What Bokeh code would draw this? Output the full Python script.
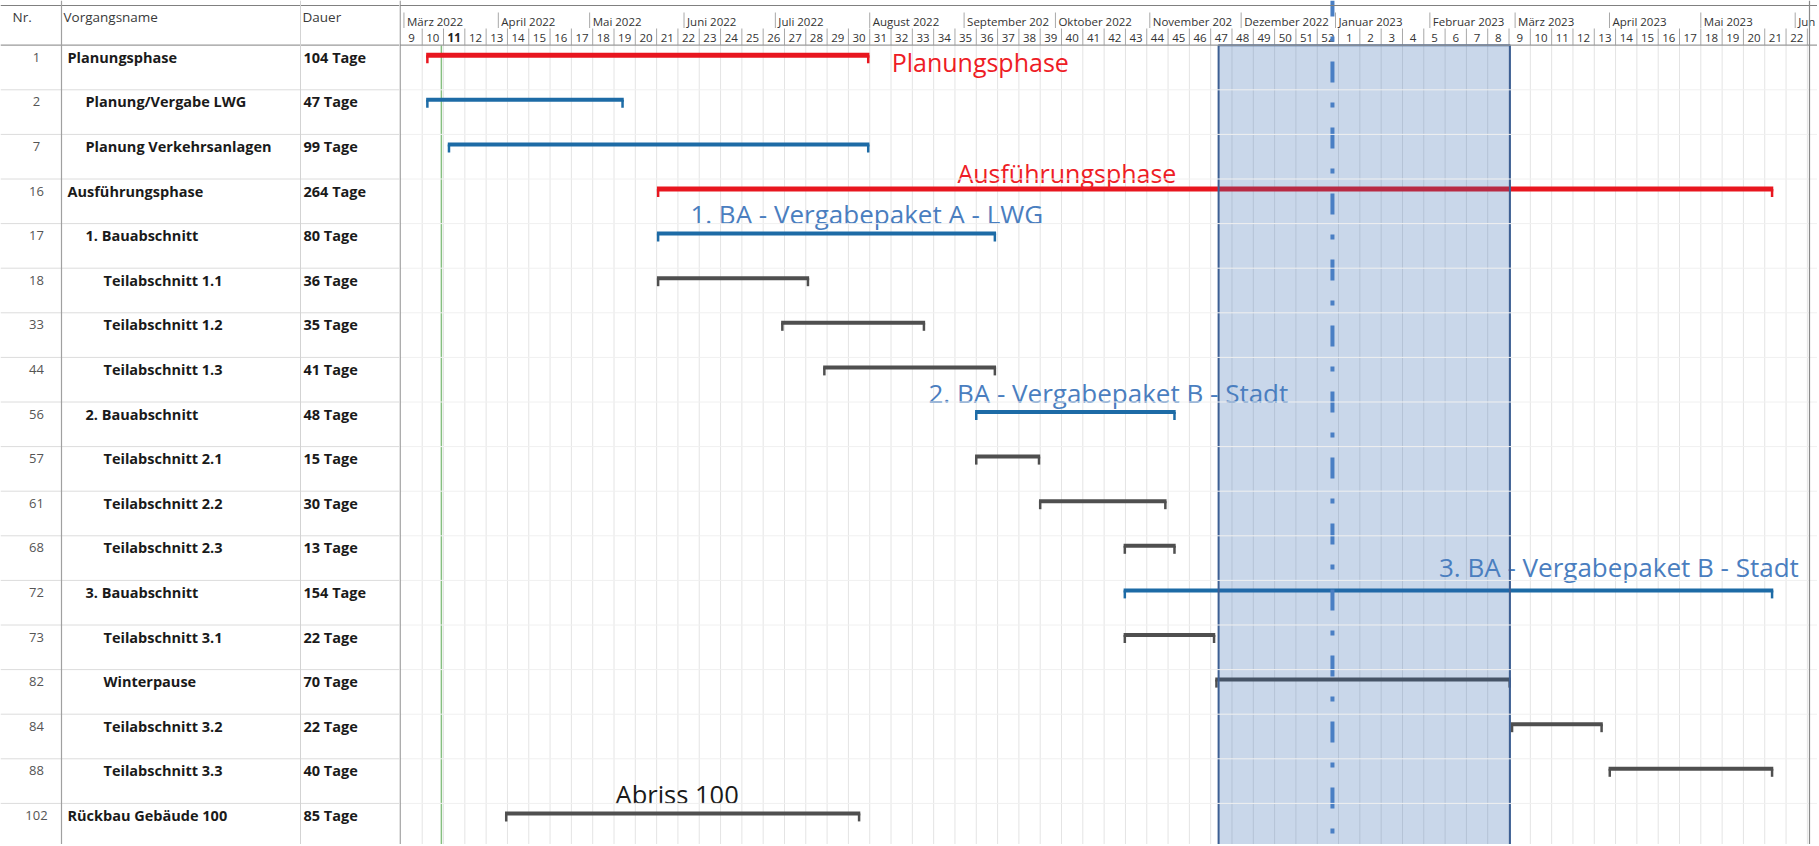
import pandas as pd
from bokeh.plotting import figure
from bokeh.models import Range1d, Span, ColumnDataSource
from bokeh.layouts import row
from bokeh.embed import file_html
from bokeh.resources import INLINE
from bokeh.core.properties import value

# ---------------- data ----------------
# day 0 = Monday 28.02.2022 (start of KW 9)
task_nr = ["1", "2", "7", "16", "17", "18", "33", "44", "56", "57", "61", "68",
           "72", "73", "82", "84", "88", "102"]
task_name = ["Planungsphase", "Planung/Vergabe LWG", "Planung Verkehrsanlagen",
             "Ausführungsphase", "1. Bauabschnitt", "Teilabschnitt 1.1",
             "Teilabschnitt 1.2", "Teilabschnitt 1.3", "2. Bauabschnitt",
             "Teilabschnitt 2.1", "Teilabschnitt 2.2", "Teilabschnitt 2.3",
             "3. Bauabschnitt", "Teilabschnitt 3.1", "Winterpause",
             "Teilabschnitt 3.2", "Teilabschnitt 3.3", "Rückbau Gebäude 100"]
task_level = [0, 1, 1, 0, 1, 2, 2, 2, 1, 2, 2, 2, 1, 2, 2, 2, 2, 0]
task_duration = ["104 Tage", "47 Tage", "99 Tage", "264 Tage", "80 Tage", "36 Tage",
                 "35 Tage", "41 Tage", "48 Tage", "15 Tage", "30 Tage", "13 Tage",
                 "154 Tage", "22 Tage", "70 Tage", "22 Tage", "40 Tage", "85 Tage"]
task_kind = ["phase", "package", "package", "phase", "package", "task", "task", "task",
             "package", "task", "task", "task", "package", "task", "task", "task",
             "task", "task"]
start_day = [8.3, 8.3, 15.4, 84.1, 84.1, 84.1, 124.9, 138.7, 188.6, 188.6, 209.6,
             237.4, 237.4, 237.4, 267.5, 364.6, 396.7, 34.2]
end_day = [153.9, 73.2, 153.9, 450.8, 195.5, 134.1, 172.2, 195.5, 254.5, 210.0,
           251.5, 254.5, 450.8, 267.5, 364.6, 394.8, 450.8, 150.9]

label_text = ["Planungsphase", "Ausführungsphase", "1. BA - Vergabepaket A - LWG",
              "2. BA - Vergabepaket B - Stadt", "3. BA - Vergabepaket B - Stadt",
              "Abriss 100"]
label_kind = ["phase", "phase", "package", "package", "package", "plain"]
label_row = [0, 3, 4, 8, 12, 17]
label_day = [161.2, 182.8, 95.1, 173.3, 341.0, 70.5]
label_dy = [17.0, -6.5, -10.0, -9.0, -13.5, -9.0]   # px from row top

month_labels = ["März 2022", "April 2022", "Mai 2022", "Juni 2022", "Juli 2022",
                "August 2022", "September 202", "Oktober 2022", "November 202",
                "Dezember 2022", "Januar 2023", "Februar 2023", "März 2023",
                "April 2023", "Mai 2023", "Jun"]
month_starts = ["2022-03-01", "2022-04-01", "2022-05-01", "2022-06-01", "2022-07-01",
                "2022-08-01", "2022-09-01", "2022-10-01", "2022-11-01", "2022-12-01",
                "2023-01-01", "2023-02-01", "2023-03-01", "2023-04-01", "2023-05-01",
                "2023-06-01"]
week_labels = [str(w) for w in range(9, 53)] + [str(w) for w in range(1, 23)]
current_week = "11"
today_day = 13.3
year_change_day = 306.0
winter_start_day = 268.6
winter_end_day = 364.3

BASE = pd.Timestamp("2022-02-28")
month_day = [(pd.Timestamp(d) - BASE).days for d in month_starts]

# ---------------- layout constants ----------------
PAGE = 0
W_TOTAL, H_TOTAL = 1817, 844
TABLE_RIGHT = 399
PX_DAY = 3.0443
DAY0_X = 400.4
HEAD_BOTTOM = 44.7
ROW_H = 44.6
FONT = value("Open Sans")


def yr(ref_y):
    return (ref_y - HEAD_BOTTOM) / ROW_H


def dx(ref_x):
    return (ref_x - DAY0_X) / PX_DAY


y_top = yr(PAGE)
y_bot = yr(PAGE + H_TOTAL)
n_rows = len(task_nr)


def base_fig(width, x_range):
    f = figure(width=width, height=H_TOTAL, x_range=x_range,
               y_range=Range1d(y_bot, y_top), output_backend="svg",
               toolbar_location=None, min_border=0)
    f.axis.visible = False
    f.grid.visible = False
    f.outline_line_color = None
    f.background_fill_color = "white"
    f.border_fill_color = "white"
    return f


# ---------------- table ----------------
t = base_fig(TABLE_RIGHT - PAGE, Range1d(PAGE, TABLE_RIGHT))
for r in range(1, n_rows):
    t.add_layout(Span(location=r, dimension="width", line_color="#dcdcdc", line_width=1))
t.add_layout(Span(location=0, dimension="width", line_color="#9a9a9a", line_width=1.2))
t.add_layout(Span(location=yr(5), dimension="width", line_color="#808080", line_width=1.2))
t.add_layout(Span(location=61, dimension="height", line_color="#a0a0a0", line_width=1.2))
t.add_layout(Span(location=300, dimension="height", line_color="#d3d3d3", line_width=1))

t.text(x=[12, 63, 302], y=[yr(16)] * 3, text=["Nr.", "Vorgangsname", "Dauer"],
       text_font=FONT, text_font_size="13.5px", text_color="#3a3a3a",
       text_baseline="middle", text_align="left")

rows_y = [r + 12.0 / ROW_H for r in range(n_rows)]
t.text(x=[36] * n_rows, y=rows_y, text=task_nr, text_font=FONT,
       text_font_size="13px", text_color="#555555", text_baseline="middle",
       text_align="center")
t.text(x=[67 + 18 * lv for lv in task_level], y=rows_y, text=task_name, text_font=FONT,
       text_font_size="14.5px", text_font_style="bold", text_color="#1a1a1a",
       text_baseline="middle", text_align="left")
t.text(x=[303] * n_rows, y=rows_y, text=task_duration, text_font=FONT,
       text_font_size="14.5px", text_font_style="bold", text_color="#1a1a1a",
       text_baseline="middle", text_align="left")

# ---------------- gantt ----------------
g = base_fig(W_TOTAL - (TABLE_RIGHT - PAGE), Range1d(dx(TABLE_RIGHT), dx(PAGE + W_TOTAL)))

n_weeks = len(week_labels)
week_edges = [7 * i for i in range(1, n_weeks + 1)]
# body grid
g.segment(x0=week_edges, x1=week_edges, y0=[0] * n_weeks, y1=[y_bot] * n_weeks,
          line_color="#e4e4e4", line_width=1)
for r in range(1, n_rows):
    g.add_layout(Span(location=r, dimension="width", line_color="#f0f0f0", line_width=1))

# header
g.segment(x0=week_edges, x1=week_edges, y0=[yr(28)] * n_weeks, y1=[0] * n_weeks,
          line_color="#a8a8a8", line_width=1)
week_centers = [7 * i + 3.5 for i in range(n_weeks)]
norm_idx = [i for i, w in enumerate(week_labels) if not (w == current_week and i < 10)]
bold_idx = [i for i, w in enumerate(week_labels) if w == current_week and i < 10]
g.text(x=[week_centers[i] for i in norm_idx], y=[yr(37)] * len(norm_idx),
       text=[week_labels[i] for i in norm_idx], text_font=FONT, text_font_size="11.5px",
       text_color="#333333", text_baseline="middle", text_align="center")
g.text(x=[week_centers[i] for i in bold_idx], y=[yr(37)] * len(bold_idx),
       text=[week_labels[i] for i in bold_idx], text_font=FONT, text_font_size="11.5px",
       text_font_style="bold", text_color="#222222", text_baseline="middle",
       text_align="center")
nm = len(month_day)
g.segment(x0=month_day, x1=month_day, y0=[yr(12)] * nm, y1=[yr(27.5)] * nm,
          line_color="#a8a8a8", line_width=1)
g.text(x=[d + 3 / PX_DAY for d in month_day], y=[yr(21)] * nm, text=month_labels,
       text_font=FONT, text_font_size="11.5px", text_color="#333333",
       text_baseline="middle", text_align="left")

# today line
g.segment(x0=[today_day], x1=[today_day], y0=[0], y1=[y_bot],
          line_color="#86bf80", line_width=1.5)

# bars
styles = {"phase": ("#e8161f", 5.0), "package": ("#1d6ba6", 4.0), "task": ("#4f4f4f", 4.0)}
BAR_DY = 10.0 / ROW_H
TICK_LEN = 8.0 / ROW_H
for kind, (col, lw) in styles.items():
    idx = [i for i, k in enumerate(task_kind) if k == kind]
    src = ColumnDataSource(dict(
        x0=[start_day[i] for i in idx],
        x1=[end_day[i] for i in idx],
        y=[i + BAR_DY for i in idx],
        yt=[i + BAR_DY + TICK_LEN for i in idx],
        xs=[start_day[i] + 1.2 / PX_DAY for i in idx],
        xe=[end_day[i] - 1.2 / PX_DAY for i in idx],
    ))
    g.segment(x0="x0", x1="x1", y0="y", y1="y", source=src, line_color=col, line_width=lw)
    g.segment(x0="xs", x1="xs", y0="y", y1="yt", source=src, line_color=col, line_width=2.5)
    g.segment(x0="xe", x1="xe", y0="y", y1="yt", source=src, line_color=col, line_width=2.5)

# winter window fill
g.quad(left=[winter_start_day], right=[winter_end_day], top=[0], bottom=[y_bot + 1],
       fill_color="#2f65ad", fill_alpha=0.26, line_color=None)

# annotations
label_styles = {"phase": ("#ee1c25", "25px"), "package": ("#4a7ebf", "26px"),
                "plain": ("#1a1a1a", "25.5px")}
for kind, (col, size) in label_styles.items():
    idx = [i for i, k in enumerate(label_kind) if k == kind]
    g.text(x=[label_day[i] for i in idx],
           y=[label_row[i] + label_dy[i] / ROW_H for i in idx],
           text=[label_text[i] for i in idx], text_font=FONT,
           text_font_size=size, text_color=col, text_baseline="middle",
           text_align="left")

# winter window border
g.quad(left=[winter_start_day], right=[winter_end_day], top=[0], bottom=[y_bot + 1],
       fill_color=None, line_color="#3d5f93", line_width=2)

# year change dash-dot
g.segment(x0=[year_change_day], x1=[year_change_day], y0=[y_top], y1=[y_bot],
          line_color="#4a7fc4", line_width=4, line_dash="21 20 5 20",
          line_dash_offset=5)

# frame lines
g.add_layout(Span(location=0, dimension="width", line_color="#9a9a9a", line_width=1.2))
g.add_layout(Span(location=yr(5), dimension="width", line_color="#808080",
                  line_width=1.2))
g.add_layout(Span(location=dx(399.6), dimension="height", line_color="#8a8a8a",
                  line_width=1.2))
g.add_layout(Span(location=dx(1809), dimension="height", line_color="#8a8a8a",
                  line_width=1.2))

layout = row(t, g, spacing=0)
open("out.html", "w").write(file_html(layout, INLINE))
